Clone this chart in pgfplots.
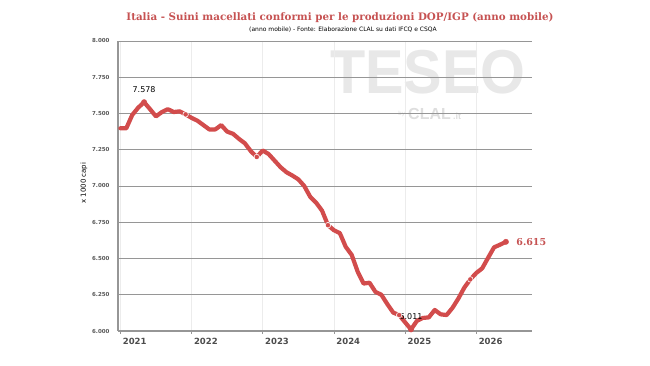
\documentclass[border=0pt]{standalone}
\usepackage{graphicx}
\usepackage{pgfplots}
\pgfplotsset{compat=1.18}
\usepackage{pgfplotstable}
\usepackage{fontspec}
\setmainfont{DejaVu Sans}
\newfontfamily\titlefont{DejaVu Serif}
\newfontfamily\wmfont{Liberation Sans}
\definecolor{linered}{RGB}{210,76,76}
\definecolor{titlered}{RGB}{198,82,82}
\definecolor{gridgray}{RGB}{150,150,150}
\definecolor{vgrid}{RGB}{236,236,236}
\definecolor{wmgray}{RGB}{232,232,232}
\definecolor{wmgray2}{RGB}{222,222,222}

% monthly rolling-year count (x 1000 head), month 0 = Jan 2021
\pgfplotstableread{
m v
0 7.398
1 7.398
2 7.490
3 7.540
4 7.578
5 7.530
6 7.480
7 7.510
8 7.530
9 7.510
10 7.515
11 7.494
12 7.470
13 7.450
14 7.420
15 7.390
16 7.390
17 7.420
18 7.375
19 7.360
20 7.325
21 7.294
22 7.240
23 7.200
24 7.245
25 7.220
26 7.175
27 7.130
28 7.095
29 7.072
30 7.046
31 7.000
32 6.926
33 6.885
34 6.830
35 6.730
36 6.695
37 6.675
38 6.580
39 6.525
40 6.410
41 6.327
42 6.333
43 6.270
44 6.250
45 6.186
46 6.127
47 6.110
48 6.060
49 6.011
50 6.070
51 6.090
52 6.094
53 6.145
54 6.115
55 6.110
56 6.160
57 6.225
58 6.300
59 6.356
60 6.400
61 6.432
62 6.505
63 6.577
64 6.595
65 6.615
}\suini

\begin{document}
\begin{tikzpicture}
\path[use as bounding box] (0bp,0bp) rectangle (650bp,366bp);

% watermark
\node[anchor=base west, inner sep=0, text=wmgray,
      font=\wmfont\bfseries\fontsize{62bp}{62bp}\selectfont]
  at (330bp,272bp) {\scalebox{0.93}[1]{TESEO}};
\node[anchor=base west, inner sep=0, text=wmgray2,
      font=\wmfont\bfseries\fontsize{16bp}{16bp}\selectfont]
  at (408bp,246bp) {CLAL};
\node[anchor=base east, inner sep=0, text=wmgray2,
      font=\wmfont\fontsize{6bp}{6bp}\selectfont]
  at (405bp,250bp) {by};
\node[anchor=base west, inner sep=0, text=wmgray2,
      font=\wmfont\bfseries\fontsize{9bp}{9bp}\selectfont]
  at (453bp,246bp) {.it};

% titles
\node[font=\titlefont\bfseries\fontsize{10.3bp}{12bp}\selectfont, text=titlered]
  at (340bp,348bp) {Italia - Suini macellati conformi per le produzioni DOP/IGP (anno mobile)};
\node[font=\fontsize{6bp}{7bp}\selectfont]
  at (343bp,336bp) {(anno mobile) - Fonte: Elaborazione CLAL su dati IFCQ e CSQA};

\begin{axis}[
  at={(118bp,35bp)}, anchor=south west,
  scale only axis, width=414bp, height=290bp,
  xmin=-0.4, xmax=69.4, ymin=6, ymax=8,
  axis lines*=left,
  axis line style={gridgray, line width=1.2bp},
  xtick={0,12,24,36,48,60},
  xticklabels={2021,2022,2023,2024,2025,2026},
  ytick={6,6.25,6.5,6.75,7,7.25,7.5,7.75,8},
  yticklabels={6.000,6.250,6.500,6.750,7.000,7.250,7.500,7.750,8.000},
  tick align=outside,
  x tick style={draw=gridgray, line width=0.8bp},
  major tick length=3bp,
  y tick style={draw=none},
  xmajorgrids, ymajorgrids,
  x grid style={vgrid, line width=0.8bp},
  y grid style={gridgray, line width=0.9bp},
  xticklabel style={font=\bfseries\fontsize{8.5bp}{9bp}\selectfont, text=black!70,
                    anchor=north west, xshift=-1bp, yshift=-1bp},
  yticklabel style={font=\bfseries\fontsize{5.5bp}{6bp}\selectfont, text=black!65,
                    xshift=-2bp},
  ylabel={x 1000 capi},
  ylabel style={font=\fontsize{7bp}{8bp}\selectfont, at={(axis description cs:-0.082,0.51)}, anchor=center},
  clip=false,
]
\addplot[linered, line width=4.2bp, line join=round, line cap=round]
  table[x=m, y=v] {\suini};
% year-end points drawn with a small gap around them
\addplot[white, only marks, mark=*, mark size=2.8bp,
  x filter/.expression={mod(x,12)==11 ? x : nan}, unbounded coords=discard]
  table[x=m, y=v] {\suini};
\addplot[linered, only marks, mark=*, mark size=2.0bp,
  x filter/.expression={mod(x,12)==11 ? x : nan}, unbounded coords=discard]
  table[x=m, y=v] {\suini};
% maximum, minimum and latest value
\addplot[linered, only marks, mark=*, mark size=2.7bp]
  coordinates {(4,7.578) (49,6.011) (65,6.615)};
\node[anchor=south, font=\fontsize{8bp}{9bp}\selectfont, yshift=6bp] at (axis cs:4,7.578) {7.578};
\node[anchor=south, font=\fontsize{8bp}{9bp}\selectfont, yshift=6bp] at (axis cs:49,6.011) {6.011};
\node[anchor=west, font=\titlefont\bfseries\fontsize{9.5bp}{10bp}\selectfont, text=titlered, xshift=7bp]
  at (axis cs:65,6.615) {6.615};
\end{axis}
\end{tikzpicture}
\end{document}
